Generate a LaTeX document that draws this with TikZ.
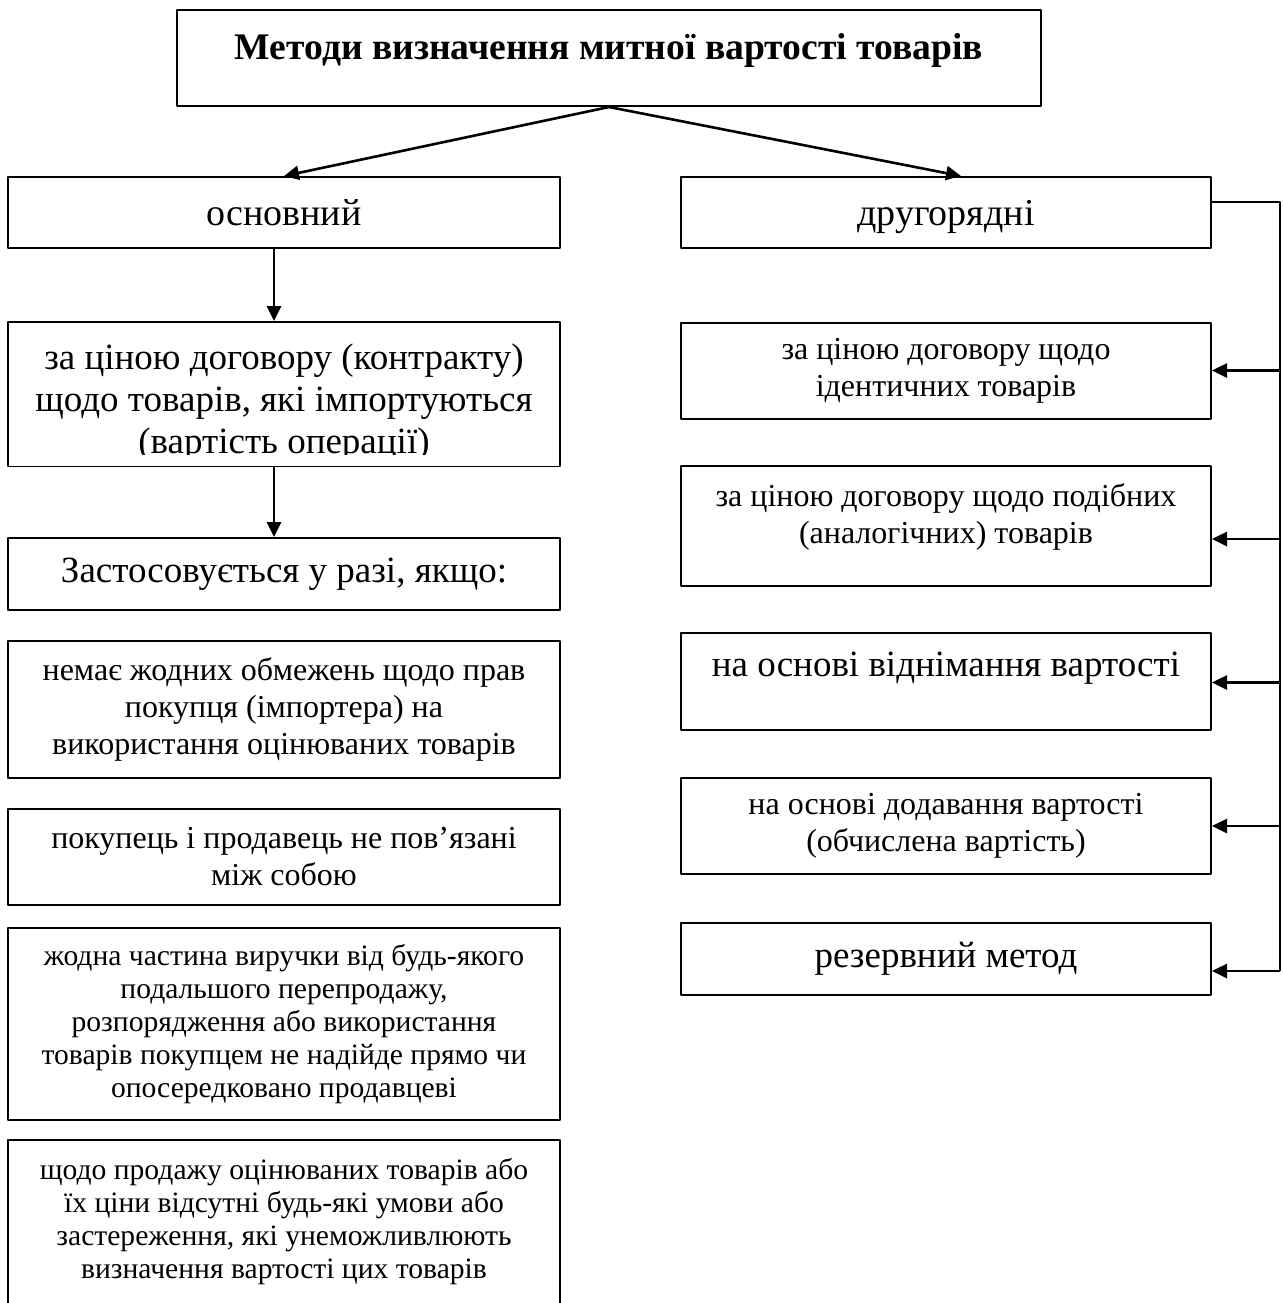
\documentclass[tikz,border=0pt]{standalone}
\usepackage{fontspec}
\setmainfont{Liberation Serif}
\usetikzlibrary{arrows.meta}
\newcommand\smalltext{\fontsize{16}{18.5}\selectfont}
\newcommand\smallertext{\fontsize{14.8}{16.5}\selectfont}
\newcommand\bigtext{\fontsize{18.5}{21}\selectfont}
\newcommand\headtext{\fontsize{18.8}{22}\selectfont\bfseries}
\tikzset{
  box/.style={draw, line width=1pt, inner sep=0pt, align=center, font=\smalltext},
  lbox/.style={box, minimum width=276pt},
  rbox/.style={box, minimum width=265pt},
  big/.style={font=\bigtext},
  arr/.style={->, line width=1.3pt}
}
\begin{document}
\begin{tikzpicture}[x=0.5pt, y=-0.5pt, line join=round, >={Triangle[length=7.5pt,width=7pt]}]
%Khung hình
\useasboundingbox (0,0) rectangle (1282,1303);
\clip (0,0) rectangle (1282,1303);
\def\lx{284}   \def\rx{946}
%Tiêu đề và hai nhánh
\node[box, minimum width=432pt, minimum height=48pt, font=\headtext, text height=13.5pt, text depth=12.5pt] (title) at (609,58) {Методи визначення митної вартості товарів};
\node[lbox, font=\fontsize{19}{21}\selectfont, minimum height=35.5pt, text height=15pt, text depth=2pt] (main) at (\lx,212.5) {основний};
\node[rbox, font=\fontsize{19}{21}\selectfont, minimum height=35.5pt, text height=15pt, text depth=2pt] (sec) at (\rx,212.5) {другорядні};
\draw[arr] (title.south)--(main.north);
\draw[arr] (title.south)--([xshift=7.5pt]sec.north);
%Cột trái
\node[lbox, big, minimum height=72pt, text height=63.5pt] (contract) at (\lx,394) {за ціною договору (контракту)\\щодо товарів, які імпортуються\\(вартість операції)};
\fill[white] ([xshift=1pt,yshift=0.5pt]contract.south west) rectangle ([xshift=-1pt,yshift=6pt]contract.south east);
\node[lbox, big, minimum height=36pt] (apply) at (\lx,574) {Застосовується у разі, якщо:};
\draw[arr] ([xshift=-5pt]main.south)--([xshift=-5pt]contract.north);
\draw[arr] ([xshift=-5pt]contract.south)--([xshift=-5pt]apply.north);
\node[lbox, minimum height=68.5pt] (cond1) at (\lx,709.5) {немає жодних обмежень щодо прав\\покупця (імпортера) на\\використання оцінюваних товарів};
\node[lbox, minimum height=48pt] (cond2) at (\lx,857) {покупець і продавець не пов’язані\\між собою};
\node[lbox, font=\smallertext, minimum height=96pt] (cond3) at (\lx,1024) {жодна частина виручки від будь-якого\\подальшого перепродажу,\\розпорядження або використання\\товарів покупцем не надійде прямо чи\\опосередковано продавцеві};
\node[lbox, font=\smallertext, anchor=north, minimum height=110pt, text depth=31.5pt] (cond4) at (\lx,1139) {щодо продажу оцінюваних товарів або\\їх ціни відсутні будь-які умови або\\застереження, які унеможливлюють\\визначення вартості цих товарів};
%Cột phải
\node[rbox, minimum height=48pt] (ident) at (\rx,370.5) {за ціною договору щодо\\ідентичних товарів};
\node[rbox, minimum height=60pt, text depth=12.8pt] (simil) at (\rx,526) {за ціною договору щодо подібних\\(аналогічних) товарів};
\node[rbox, big, minimum height=48.5pt, text depth=17.5pt] (deduct) at (\rx,681.5) {на основі віднімання вартості};
\node[rbox, minimum height=48pt] (comput) at (\rx,826) {на основі додавання вартості\\(обчислена вартість)};
\node[rbox, big, minimum height=36pt] (reserve) at (\rx,959) {резервний метод};
\coordinate (bus) at (1280,202);
\coordinate (busend) at (1280,971);
\draw[line width=1pt] (sec.east |- bus)--(bus)--(busend);
\foreach \n/\s in {ident/0,simil/-6.5,deduct/-0.5,comput/0,reserve/-6}
  \draw[arr] ([yshift=\s pt]\n.east -| bus)--([yshift=\s pt]\n.east);
\end{tikzpicture}
\end{document}
